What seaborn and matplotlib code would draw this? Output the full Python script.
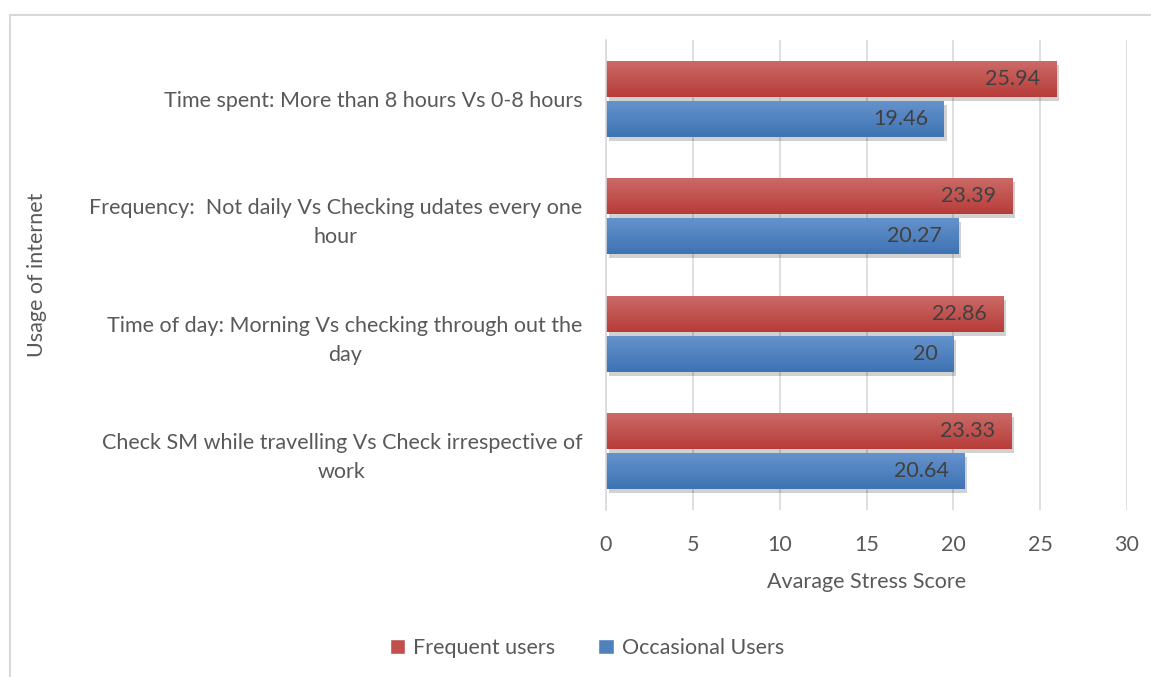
import matplotlib
matplotlib.use("Agg")
import matplotlib.pyplot as plt
import matplotlib.patheffects as pe
from matplotlib.colors import LinearSegmentedColormap
from matplotlib.patches import Rectangle
import numpy as np
import seaborn as sns
import pandas as pd

# data
categories = [
    "Time spent: More than 8 hours Vs 0-8 hours",
    "Frequency:  Not daily Vs Checking udates every one\nhour",
    "Time of day: Morning Vs checking through out the\nday",
    "Check SM while travelling Vs Check irrespective of\nwork",
]
frequent_users = [25.94, 23.39, 22.86, 23.33]
occasional_users = [19.46, 20.27, 20, 20.64]
value_labels_frequent = ["25.94", "23.39", "22.86", "23.33"]
value_labels_occasional = ["19.46", "20.27", "20", "20.64"]
series_names = ["Frequent users", "Occasional Users"]
series_colors = ["#C0504D", "#4F81BD"]
gradients = [("#CB6A67", "#B73C39"), ("#6592CB", "#3E73B4")]
x_ticks = [0, 5, 10, 15, 20, 25, 30]

sns.set_theme(style="white")
plt.rcParams["font.family"] = ["Lato", "DejaVu Sans"]
text_color = "#595959"
fs = 15.5

df = pd.DataFrame({
    "category": categories * 2,
    "score": frequent_users + occasional_users,
    "group": [series_names[0]] * 4 + [series_names[1]] * 4,
})

fig = plt.figure(figsize=(11.51, 6.77), dpi=100)
ax = fig.add_axes([606 / 1151, 1 - 510 / 677, (1127 - 606) / 1151, (510 - 40) / 677])

sns.barplot(data=df, y="category", x="score", hue="group", order=categories,
            hue_order=series_names, palette=series_colors, orient="h",
            width=0.68, gap=0.1, saturation=1, ax=ax, legend=True)

ax.set_xlim(0, 30)
ylim = ax.get_ylim()

shadow = [pe.SimplePatchShadow(offset=(2, -3), shadow_rgbFace="#000000", alpha=0.18), pe.Normal()]
grad = np.linspace(0, 1, 64).reshape(-1, 1)
for container, labels, (c_top, c_bot) in zip(ax.containers,
                                              [value_labels_frequent, value_labels_occasional],
                                              gradients):
    cmap = LinearSegmentedColormap.from_list("bar", [c_top, c_bot])
    for patch, text in zip(container.patches, labels):
        patch.set_edgecolor("none")
        patch.set_path_effects(shadow)
        x0, y0 = patch.get_x(), patch.get_y()
        w, h = patch.get_width(), patch.get_height()
        # vertical gradient fill, lighter at the top like the office style
        img = ax.imshow(grad, cmap=cmap, aspect="auto", zorder=patch.get_zorder() + 0.1,
                        extent=(x0, x0 + w, y0 + h, y0), origin="upper", interpolation="bilinear")
        img.set_clip_path(patch)
        ax.annotate(text, xy=(x0 + w, y0 + h / 2), xytext=(-16, 0), textcoords="offset pixels",
                    ha="right", va="center", color="#404040", fontsize=fs, zorder=5)

ax.set_xlim(0, 30)
ax.set_ylim(ylim)
ax.set_xticks(x_ticks)
ax.set_xticklabels([str(t) for t in x_ticks], fontsize=fs, color=text_color)
ax.tick_params(axis="x", length=0, pad=18)
ax.tick_params(axis="y", length=0, pad=17)
for lbl in ax.get_yticklabels():
    lbl.set_fontsize(fs)
    lbl.set_color(text_color)
    lbl.set_multialignment("center")
    lbl.set_linespacing(1.55)

ax.grid(axis="x", color="#D9D9D9", linewidth=1.2)
ax.set_axisbelow(True)
for side in ["top", "right", "bottom"]:
    ax.spines[side].set_visible(False)
ax.spines["left"].set_color("#D9D9D9")
ax.spines["left"].set_linewidth(1.2)

ax.set_xlabel("Avarage Stress Score", fontsize=fs, color=text_color, labelpad=12)
ax.set_ylabel("Usage of internet", fontsize=fs, color=text_color)
ax.yaxis.set_label_coords((47 - 606) / 521, 0.5)

handles, names = ax.get_legend_handles_labels()
ax.legend(handles, names, loc="center", bbox_to_anchor=(587 / 1151, 1 - 648 / 677),
          bbox_transform=fig.transFigure, ncol=2, frameon=False, fontsize=fs,
          handlelength=0.7, handleheight=0.7, handletextpad=0.4, columnspacing=2.0,
          labelcolor=text_color)

# outer chart border (only top and left visible in the reference)
fig.patches.append(Rectangle((10 / 1151, -0.1), 1.2, 1 - 15 / 677 + 0.1,
                             transform=fig.transFigure, fill=False,
                             edgecolor="#D9D9D9", linewidth=1.5))

fig.savefig("out.png", dpi=100, facecolor="white")
